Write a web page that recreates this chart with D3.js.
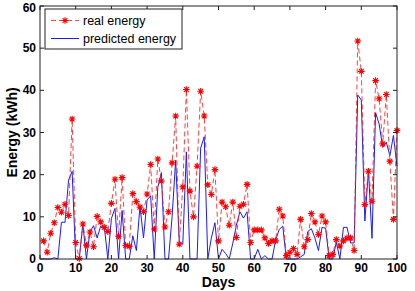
<!DOCTYPE html>
<html><head><meta charset="utf-8">
<script src="https://cdn.jsdelivr.net/npm/d3@7"></script>
<style>body{margin:0;background:#fff}svg{display:block}</style>
</head><body>
<svg id="c" width="415" height="291"></svg>
<script>
const days = d3.range(1, 101);
const realEnergy = [4.3,1.6,6.1,8.6,12.2,11.1,13.0,10.3,33.2,3.9,
0.1,8.3,3.3,6.4,2.9,10.1,8.8,7.5,6.5,13.2,
18.9,5.4,19.3,3.2,3.0,15.5,13.6,12.3,11.2,15.4,
22.4,7.1,23.7,18.5,7.6,11.2,22.8,33.9,3.5,17.1,
40.2,16.1,10.0,22.0,39.8,33.9,17.6,15.3,21.2,4.3,
13.5,12.4,8.0,13.5,5.1,12.5,13.0,17.7,3.9,6.9,
6.9,6.9,5.0,3.7,4.3,4.3,11.8,10.2,0.8,1.6,
2.5,1.1,9.4,2.9,4.6,10.8,8.8,5.8,10.2,8.8,
0.8,1.1,4.6,3.1,4.3,5.0,5.0,2.0,51.7,44.5,
12.9,20.8,13.7,42.3,38.0,27.3,39.0,23.2,9.4,30.5];
const predictedEnergy = [0,0,0,0.3,0,8.7,8.7,18.7,20.8,0,
0,8.4,0,6.5,7.9,5,7.8,7.8,0,9.6,
12,0,11.5,0,0,5.5,2,12.5,5,14,
15,0,17,20.5,0,0,10,23.4,4.2,3.5,
25.4,0,0,0,26.3,29,0,5,8.6,0,
2.3,1.3,0,3.7,8,11.2,9.7,11.2,0,0,
2.3,0,0.8,0,0,4.5,7,7.8,0,0,
0,0,0.5,1.1,6.5,7.2,5,2,7.5,7.3,
0,0,4,0,7.5,7.5,3.8,3.8,38.9,37.7,
9,21,4.9,34.7,32,26.5,27.7,24.5,29.3,22];
const xTicks = [0,10,20,30,40,50,60,70,80,90,100];
const yTicks = [0,10,20,30,40,50,60];
const seriesNames = ["real energy", "predicted energy"];

const svg = d3.select("#c");
const L = 40, R = 397, T = 6, B = 259;
const x = d3.scaleLinear().domain([0,100]).range([L,R]);
const y = d3.scaleLinear().domain([0,60]).range([B,T]);
const font = "'Liberation Sans', Arial, sans-serif";

const line = d3.line().x((d,i)=>x(days[i])).y(d=>y(d));
svg.append("path").datum(predictedEnergy).attr("d", line)
  .attr("fill","none").attr("stroke","#1a1aff").attr("stroke-width",1);
svg.append("path").datum(realEnergy).attr("d", line)
  .attr("fill","none").attr("stroke","#ff2020").attr("stroke-width",1)
  .attr("stroke-dasharray","5,3").attr("opacity",0.85);

function star(g, cx, cy, r){
  const p = d3.path();
  p.moveTo(cx-r,cy); p.lineTo(cx+r,cy);
  p.moveTo(cx,cy-r); p.lineTo(cx,cy+r);
  const k = r*0.72;
  p.moveTo(cx-k,cy-k); p.lineTo(cx+k,cy+k);
  p.moveTo(cx-k,cy+k); p.lineTo(cx+k,cy-k);
  g.append("path").attr("d",p.toString()).attr("stroke","#ff0000").attr("stroke-width",1.1).attr("fill","none");
}
const mk = svg.append("g");
realEnergy.forEach((v,i)=>star(mk, x(days[i]), y(v), 3.3));

const ax = svg.append("g").attr("font-family",font).attr("font-weight","bold").attr("font-size","12px");
ax.append("rect").attr("x",L).attr("y",T).attr("width",R-L).attr("height",B-T)
  .attr("fill","none").attr("stroke","#222").attr("stroke-width",1);
xTicks.forEach(t=>{
  ax.append("line").attr("x1",x(t)).attr("x2",x(t)).attr("y1",B).attr("y2",B-4).attr("stroke","#222");
  ax.append("line").attr("x1",x(t)).attr("x2",x(t)).attr("y1",T).attr("y2",T+4).attr("stroke","#222");
  ax.append("text").attr("x",x(t)).attr("y",B+13).attr("text-anchor","middle").text(t);
});
yTicks.forEach(t=>{
  ax.append("line").attr("x1",L).attr("x2",L+4).attr("y1",y(t)).attr("y2",y(t)).attr("stroke","#222");
  ax.append("line").attr("x1",R).attr("x2",R-4).attr("y1",y(t)).attr("y2",y(t)).attr("stroke","#222");
  ax.append("text").attr("x",L-4).attr("y",Math.max(y(t)+4, 12)).attr("text-anchor","end").text(t);
});
svg.append("text").attr("x",(L+R)/2).attr("y",287).attr("text-anchor","middle")
  .attr("font-family",font).attr("font-weight","bold").attr("font-size","14px").text("Days");
svg.append("text").attr("transform",`translate(17,${(T+B)/2}) rotate(-90)`).attr("text-anchor","middle")
  .attr("font-family",font).attr("font-weight","bold").attr("font-size","14px").text("Energy (kWh)");

const lg = svg.append("g").attr("font-family",font).attr("font-size","12.5px");
lg.append("rect").attr("x",45).attr("y",9).attr("width",137).attr("height",40)
  .attr("fill","#fff").attr("stroke","#222").attr("stroke-width",1);
lg.append("line").attr("x1",51).attr("x2",79).attr("y1",20.5).attr("y2",20.5)
  .attr("stroke","#ff2020").attr("stroke-dasharray","5,3").attr("opacity",0.85);
star(lg, 65, 20.5, 3.3);
lg.append("text").attr("x",83).attr("y",24.5).text(seriesNames[0]);
lg.append("line").attr("x1",51).attr("x2",79).attr("y1",38.5).attr("y2",38.5).attr("stroke","#1a1aff");
lg.append("text").attr("x",83).attr("y",42.5).text(seriesNames[1]);
</script>
</body></html>
